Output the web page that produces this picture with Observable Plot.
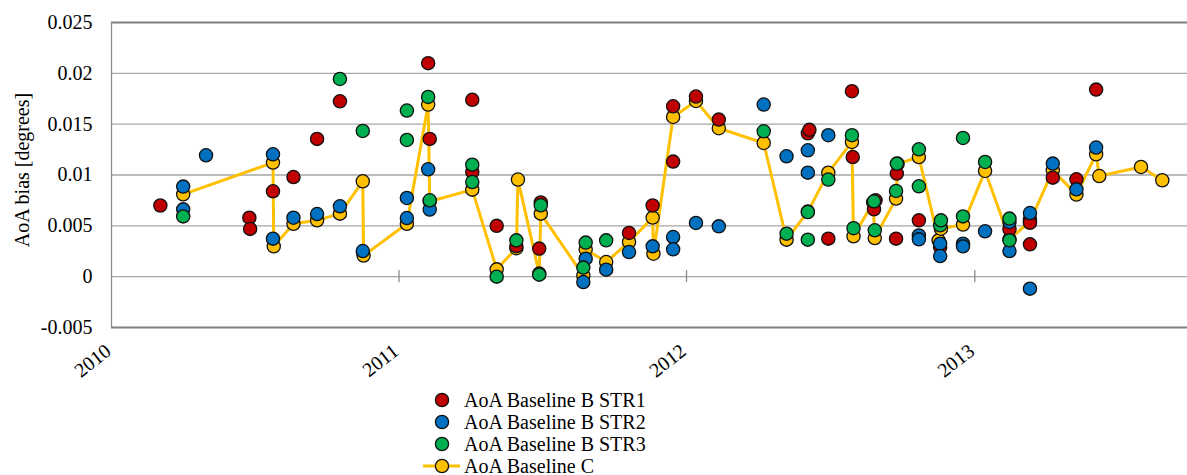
<!DOCTYPE html>
<html>
<head>
<meta charset="utf-8">
<script src="https://cdn.jsdelivr.net/npm/d3@7"></script>
<script src="https://cdn.jsdelivr.net/npm/@observablehq/plot@0.6"></script>
<style>
  html, body { margin: 0; padding: 0; background: #fff; }
  body { width: 1187px; height: 475px; overflow: hidden; font-family: 'Liberation Serif', serif; }
  #chart svg { display: block; }
  #legend { padding-left: 422px; margin-top: 9px; font-size: 20px; color: #000; font-family: 'Liberation Serif', serif; }
  .row { display: flex; align-items: center; height: 22px; line-height: 22px; }
  .row svg { display: block; margin-right: 2px; }
</style>
</head>
<body>
<div id="chart"></div>
<div id="legend"></div>
<script>
// ---- Data ----
const seriesNames = ["AoA Baseline B STR1", "AoA Baseline B STR2", "AoA Baseline B STR3", "AoA Baseline C"];
const seriesColors = ["#c00000", "#0070c0", "#00b050", "#ffc000"];

const str1Dates = ["2010-03-04","2010-06-25","2010-06-26","2010-07-25","2010-08-20","2010-09-19","2010-10-18",
  "2011-02-07","2011-02-09","2011-04-04","2011-04-04","2011-05-05","2011-05-30","2011-06-28","2011-06-30",
  "2011-10-20","2011-11-19","2011-12-15","2011-12-15","2012-01-13","2012-02-11","2012-06-03","2012-06-05",
  "2012-06-29","2012-07-29","2012-07-30","2012-08-26","2012-08-28","2012-09-23","2012-09-24","2012-10-22",
  "2012-11-18","2013-02-14","2013-03-12","2013-03-12","2013-03-12","2013-04-10","2013-05-10","2013-06-04"];
const str1Values = [0.0070,0.0058,0.0047,0.0084,0.0098,0.01355,0.01725,
  0.0210,0.01355,0.0174,0.0103,0.0050,0.0030,0.00276,0.0073,
  0.0043,0.0070,0.01676,0.01132,0.01772,0.01545,0.0141,0.01444,
  0.00374,0.01824,0.01177,0.00662,0.00751,0.00374,0.01014,0.00554,
  0.0029,0.00466,0.00561,0.0053,0.00318,0.00974,0.00958,0.0184];

const str2Dates = ["2010-04-02","2010-04-02","2010-05-01","2010-07-25","2010-07-25","2010-08-20","2010-09-19",
  "2010-10-18","2010-11-16","2011-01-11","2011-01-11","2011-02-07","2011-02-09","2011-08-23","2011-08-26",
  "2011-09-21","2011-10-20","2011-11-19","2011-12-15","2011-12-15","2012-01-13","2012-02-11","2012-04-08",
  "2012-05-07","2012-06-03","2012-06-03","2012-06-29","2012-10-22","2012-10-22","2012-11-18","2012-11-18",
  "2012-12-17","2012-12-17","2013-01-14","2013-02-14","2013-02-14","2013-03-12","2013-03-12","2013-04-10",
  "2013-05-10","2013-06-04"];
const str2Values = [0.00886,0.00662,0.01194,0.01204,0.00374,0.0058,0.00616,
  0.00692,0.00252,0.00774,0.00577,0.01056,0.0066,-0.00053,0.00177,
  0.00069,0.00242,0.00298,0.0039,0.00269,0.00528,0.00495,0.01693,
  0.01184,0.01243,0.01023,0.01391,0.00406,0.00367,0.00325,0.00203,
  0.00325,0.00298,0.00446,0.00538,0.00252,0.00626,-0.00118,0.01112,
  0.00859,0.0127];

const str3Dates = ["2010-04-02","2010-10-18","2010-11-16","2011-01-11","2011-01-11","2011-02-07","2011-02-09",
  "2011-04-04","2011-04-04","2011-05-05","2011-05-30","2011-06-28","2011-06-30","2011-08-23","2011-08-26",
  "2011-09-21","2012-04-08","2012-05-07","2012-06-03","2012-06-03","2012-06-29","2012-07-29","2012-07-31",
  "2012-08-26","2012-08-27","2012-09-23","2012-09-24","2012-10-22","2012-10-22","2012-11-18","2012-11-19",
  "2012-12-17","2012-12-17","2013-01-14","2013-02-14","2013-02-14"];
const str3Values = [0.00593,0.01945,0.01433,0.01634,0.01345,0.01768,0.00751,
  0.01102,0.00931,0.0,0.00357,0.0002,0.00702,0.00089,0.00335,
  0.00357,0.0143,0.00423,0.00636,0.00364,0.00955,0.01391,0.00477,
  0.00741,0.00456,0.00843,0.01112,0.01253,0.00889,0.00505,0.00554,
  0.01364,0.00593,0.01128,0.00571,0.00357];

const cDates = ["2010-04-02","2010-07-25","2010-07-26","2010-08-20","2010-09-19","2010-10-18","2010-11-16",
  "2010-11-17","2011-01-11","2011-02-07","2011-02-09","2011-04-04","2011-05-05","2011-05-30","2011-06-01",
  "2011-06-28","2011-06-30","2011-08-23","2011-08-26","2011-09-21","2011-10-20","2011-11-19","2011-11-20",
  "2011-12-15","2012-01-13","2012-02-11","2012-04-08","2012-05-07","2012-06-03","2012-06-29","2012-07-29",
  "2012-07-31","2012-08-25","2012-08-27","2012-09-23","2012-09-25","2012-10-22","2012-11-16","2012-11-19",
  "2012-12-17","2013-01-14","2013-02-14","2013-03-12","2013-04-10","2013-05-10","2013-06-04","2013-06-08",
  "2013-07-31","2013-08-27"];
const cValues = [0.0081,0.01122,0.00298,0.0052,0.00554,0.0062,0.00938,
  0.00207,0.0052,0.01693,0.0074,0.00856,0.00072,0.0028,0.00955,
  0.0003,0.0062,0.0001,0.0027,0.00144,0.00341,0.00581,0.00226,
  0.01571,0.01728,0.0146,0.01315,0.00364,0.0064,0.01023,0.01325,
  0.00397,0.0073,0.0038,0.00768,0.0111,0.01177,0.00357,0.00472,
  0.00512,0.0104,0.0037,0.0054,0.01046,0.00807,0.01204,0.0099,
  0.01079,0.00948];

const xDomain = ["2010-01-01", "2013-09-28"];
const yearTicks = ["2010-01-01", "2011-01-01", "2012-01-01", "2013-01-01"];
const yTicks = [-0.005, 0, 0.005, 0.01, 0.015, 0.02, 0.025];
const yLabel = "AoA bias [degrees]";

// ---- Build tables ----
const parse = d3.utcParse("%Y-%m-%d");
const toRows = (dates, values) => dates.map((d, i) => ({date: parse(d), value: values[i]}));
const s1 = toRows(str1Dates, str1Values);
const s2 = toRows(str2Dates, str2Values);
const s3 = toRows(str3Dates, str3Values);
const sc = toRows(cDates, cValues);
const years = yearTicks.map(parse);
const innerTicks = yTicks.slice(1, -1);
const frameTicks = [yTicks[0], yTicks[yTicks.length - 1]];
const tickHalf = (yTicks[1] - yTicks[0]) * 0.12;

const fmt = d => d === 0 ? "0" : String(+d.toFixed(3));
const serif = "'Liberation Serif', serif";

const dotOpts = (color) => ({x: "date", y: "value", r: 6.6, fill: color, stroke: "#111", strokeWidth: 1.3});

const chart = Plot.plot({
  width: 1187,
  height: 380,
  marginLeft: 111,
  marginRight: 0,
  marginTop: 22,
  marginBottom: 53,
  style: {fontFamily: serif, fontSize: "20px", color: "#000", background: "#fff"},
  x: {type: "utc", domain: xDomain.map(parse)},
  y: {domain: [yTicks[0], yTicks[yTicks.length - 1]]},
  marks: [
    Plot.ruleY(innerTicks, {stroke: "#a6a6a6", strokeWidth: 1.3}),
    Plot.ruleY(frameTicks, {stroke: "#7f7f7f", strokeWidth: 2}),
    Plot.ruleX([parse(xDomain[0])], {stroke: "#8c8c8c", strokeWidth: 1.3}),
    Plot.ruleX(years.slice(1), {x: d => d, y1: -tickHalf, y2: tickHalf, stroke: "#8c8c8c", strokeWidth: 1.3}),
    Plot.axisY({ticks: yTicks, tickFormat: fmt, tickSize: 0, tickPadding: 19, label: null, fontSize: 20}),
    Plot.axisX({ticks: years, tickFormat: d3.utcFormat("%Y"), tickSize: 0, tickPadding: 21, dx: -3, tickRotate: -38, label: null, fontSize: 20}),
    Plot.text([yLabel], {frameAnchor: "left", textAnchor: "middle", rotate: -90, dx: -89, dy: -5, fontSize: 20}),
    Plot.line(sc, {x: "date", y: "value", stroke: seriesColors[3], strokeWidth: 3}),
    Plot.dot(sc, dotOpts(seriesColors[3])),
    Plot.dot(s1, dotOpts(seriesColors[0])),
    Plot.dot(s2, dotOpts(seriesColors[1])),
    Plot.dot(s3, dotOpts(seriesColors[2]))
  ]
});
chart.querySelectorAll("text").forEach(t => t.style.fontFamily = serif);
document.getElementById("chart").appendChild(chart);

// ---- Legend ----
const legend = document.getElementById("legend");
seriesNames.forEach((name, i) => {
  const row = document.createElement("div");
  row.className = "row";
  const line = i === 3 ? `<line x1="1" x2="38" y1="11" y2="11" stroke="${seriesColors[i]}" stroke-width="3"/>` : "";
  row.innerHTML = `<svg width="40" height="22">${line}<circle cx="20" cy="11" r="6.6" fill="${seriesColors[i]}" stroke="#111" stroke-width="1.3"/></svg><span>${name}</span>`;
  legend.appendChild(row);
});
</script>
</body>
</html>
